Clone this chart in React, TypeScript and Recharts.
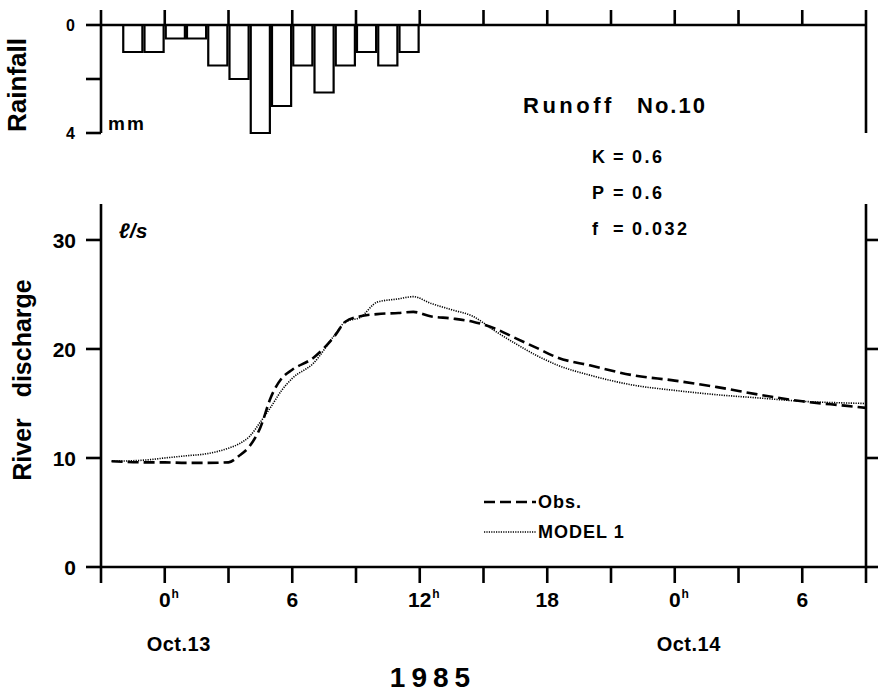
import React from 'react'
import { BarChart, Bar, LineChart, Line, XAxis, YAxis, Legend } from 'recharts'

// hours counted from Oct.13 0h
const rainHours = [-1.5, -0.5, 0.5, 1.5, 2.5, 3.5, 4.5, 5.5, 6.5, 7.5, 8.5, 9.5, 10.5, 11.5]
const rainfall = [1, 1, 0.5, 0.5, 1.5, 2, 4, 3, 1.5, 2.5, 1.5, 1, 1.5, 1]

const hours = [-2.5, -1, 0, 1, 2, 3, 3.5, 4, 4.5, 5, 5.5, 6, 7, 8, 8.5, 9.2, 10, 11, 11.7, 12.5, 13.5, 14.5, 15.5, 16.5, 17.5, 18.5, 20, 22, 24, 26, 28, 30, 32, 33]
const observed = [9.7, 9.6, 9.6, 9.55, 9.55, 9.6, 10.2, 11.1, 12.8, 15.6, 17.3, 18.1, 19.2, 21.2, 22.5, 23.0, 23.2, 23.3, 23.4, 23.0, 22.8, 22.5, 21.9, 21.0, 20.1, 19.2, 18.5, 17.6, 17.1, 16.5, 15.8, 15.2, 14.8, 14.6]
const model1 = [9.7, 9.8, 10.0, 10.2, 10.4, 10.9, 11.3, 12.0, 13.3, 14.7, 16.2, 17.3, 18.7, 21.3, 22.5, 22.9, 24.3, 24.6, 24.8, 24.2, 23.6, 23.0, 21.7, 20.5, 19.4, 18.5, 17.6, 16.7, 16.2, 15.8, 15.5, 15.2, 15.05, 15.0]

const hourTicks = [-3, 0, 3, 6, 9, 12, 15, 18, 21, 24, 27, 30, 33]
const hourLabels: Record<number, [string, string]> = {
  0: ['0', 'h'], 6: ['6', ''], 12: ['12', 'h'], 18: ['18', ''], 24: ['0', 'h'], 30: ['6', ''],
}
const dayLabels: Record<number, string> = { 0: 'Oct.13', 24: 'Oct.14' }
const rainTicks = [0, 2, 4]
const flowTicks = [0, 10, 20, 30]
const params = [['K', '0.6'], ['P', '0.6'], ['f', '0.032']]
const seriesOrder = ['obs', 'model']

const FONT = '"Liberation Sans", Arial, Helvetica, sans-serif'
const W = 878
const LEFT = 101
const RIGHT = 12
const HOUR_PX = (W - LEFT - RIGHT) / 36
const STROKE_W = 2.6
const axisStroke = { stroke: '#000', strokeWidth: STROKE_W }

const rainData = rainHours.map((h, i) => ({ hour: h, rain: rainfall[i] }))
const flowData = hours.map((h, i) => ({ hour: h, obs: observed[i], model: model1[i] }))

const lineStyle: Record<string, { dash: string; width: number }> = {
  obs: { dash: '11 5', width: 2.6 },
  model: { dash: '1.2 1.2', width: 1.6 },
}

function HourTick({ x, y, payload }: any) {
  const lab = hourLabels[payload.value]
  if (!lab) return null
  const [main, sup] = lab
  const day = dayLabels[payload.value]
  return (
    <g fontFamily={FONT} fontWeight={700} fill="#000">
      <text x={x} y={y + 22} textAnchor="middle" fontSize={21}>{main}</text>
      {sup && <text x={x + main.length * 5.8 + 1} y={y + 13} fontSize={12}>{sup}</text>}
      {day && <text x={x + 14} y={y + 66} textAnchor="middle" fontSize={20} letterSpacing={0.5}>{day}</text>}
    </g>
  )
}

// y ticks draw their own mark (x is the label anchor: axis -/+ tick length -/+ margin)
function makeSideTick(dir: number, len: number, margin: number, fmt?: (v: number) => string, fontSize = 16) {
  return function SideTick(props: any) {
    const { x, y, payload } = props
    const near = x - dir * margin
    const far = near - dir * len
    const text = fmt ? fmt(payload.value) : ''
    return (
      <g>
        <line x1={near} y1={y} x2={far} y2={y} stroke="#000" strokeWidth={STROKE_W} />
        {text !== '' && (
          <text x={x} y={y} dy="0.36em" textAnchor="end" fontFamily={FONT} fontWeight={700} fontSize={fontSize} fill="#000">
            {text}
          </text>
        )}
      </g>
    )
  }
}

const RainLeftTick = makeSideTick(-1, 15, 11, (v) => (v === 2 ? '' : String(v)), 16)
const FlowLeftTick = makeSideTick(-1, 15, 10, (v) => String(v), 21)
const RightTick = makeSideTick(1, 12, 0)

function LegendBox({ payload }: any) {
  const items = [...(payload || [])].sort((a: any, b: any) => seriesOrder.indexOf(a.dataKey) - seriesOrder.indexOf(b.dataKey))
  return (
    <div style={{ fontFamily: FONT, fontWeight: 700, fontSize: 18, letterSpacing: 1, color: '#000' }}>
      {items.map((entry: any) => {
        const st = lineStyle[entry.dataKey]
        return (
          <div key={entry.dataKey} style={{ display: 'flex', alignItems: 'center', height: 30 }}>
            <svg width={52} height={10} style={{ marginRight: 2 }}>
              <line x1={0} y1={5} x2={52} y2={5} stroke="#000" strokeWidth={st.width} strokeDasharray={st.dash} />
            </svg>
            <span>{entry.value}</span>
          </div>
        )
      })}
    </div>
  )
}

export default function App() {
  return (
    <div style={{ position: 'absolute', left: 0, top: 0, width: W, height: 696, background: '#fff' }}>
      <div style={{ position: 'absolute', left: 0, top: 0 }}>
        <BarChart width={W} height={150} data={rainData} margin={{ top: 0, right: 0, bottom: 17, left: 0 }}>
          <XAxis type="number" dataKey="hour" domain={[-3, 33]} ticks={hourTicks} orientation="top" height={25}
            tickSize={15} tickFormatter={() => ''} axisLine={axisStroke} tickLine={axisStroke} allowDataOverflow interval={0} />
          <YAxis yAxisId="l" reversed domain={[0, 4]} ticks={rainTicks} width={LEFT} tickSize={15} tickMargin={11}
            interval={0} tickLine={false} axisLine={axisStroke} tick={RainLeftTick} />
          <YAxis yAxisId="r" orientation="right" reversed domain={[0, 4]} ticks={rainTicks} width={RIGHT} tickSize={12}
            tickMargin={0} interval={0} tickLine={false} axisLine={axisStroke} tick={RightTick} />
          <Bar yAxisId="l" dataKey="rain" fill="#fff" stroke="#000" strokeWidth={2.2} barSize={HOUR_PX} isAnimationActive={false} />
          <text transform="translate(26,85) rotate(-90)" textAnchor="middle" fontFamily={FONT} fontWeight={700} fontSize={26}>Rainfall</text>
          <text x={108} y={130} fontFamily={FONT} fontWeight={700} fontSize={19} letterSpacing={2}>mm</text>
          <text y={113} fontFamily={FONT} fontWeight={700} fontSize={22} letterSpacing={3.5}>
            <tspan x={523}>Runoff</tspan>
            <tspan x={637} letterSpacing={2}>No.10</tspan>
          </text>
        </BarChart>
      </div>
      <div style={{ position: 'absolute', left: 0, top: 140 }}>
        <LineChart width={W} height={556} data={flowData} margin={{ top: 64, right: 0, bottom: 0, left: 0 }}>
          <XAxis type="number" dataKey="hour" domain={[-3, 33]} ticks={hourTicks} height={129} tickSize={16}
            tick={<HourTick />} interval={0} axisLine={axisStroke} tickLine={axisStroke} allowDataOverflow />
          <YAxis yAxisId="l" domain={[0, 33.3]} ticks={flowTicks} width={LEFT} tickSize={15} tickMargin={10}
            interval={0} tickLine={false} axisLine={axisStroke} allowDataOverflow tick={FlowLeftTick} />
          <YAxis yAxisId="r" orientation="right" domain={[0, 33.3]} ticks={flowTicks} width={RIGHT} tickSize={12}
            tickMargin={0} interval={0} tickLine={false} axisLine={axisStroke} allowDataOverflow tick={RightTick} />
          <Line yAxisId="l" type="monotone" dataKey="obs" name="Obs." stroke="#000" strokeWidth={lineStyle.obs.width}
            strokeDasharray={lineStyle.obs.dash} dot={false} isAnimationActive={false} />
          <Line yAxisId="l" type="monotone" dataKey="model" name="MODEL 1" stroke="#000" strokeWidth={lineStyle.model.width}
            strokeDasharray={lineStyle.model.dash} dot={false} isAnimationActive={false} />
          <Legend layout="vertical" verticalAlign="middle" align="center" content={<LegendBox />}
            wrapperStyle={{ left: 484, top: 347, width: 'auto' }} />
          <text transform="translate(31,240) rotate(-90)" textAnchor="middle" fontFamily={FONT} fontWeight={700}
            fontSize={25} style={{ whiteSpace: 'pre' }}>{'River   discharge'}</text>
          <text x={119} y={98} fontFamily={FONT} fontWeight={700} fontStyle="italic" fontSize={21}>ℓ/s</text>
          {params.map(([k, v], i) => (
            <g key={k} fontFamily={FONT} fontWeight={700} fontSize={18} fill="#000">
              <text x={592} y={23 + i * 36}>{k}</text>
              <text x={613} y={23 + i * 36}>=</text>
              <text x={632} y={23 + i * 36} letterSpacing={2.5}>{v}</text>
            </g>
          ))}
          <text x={433} y={547} textAnchor="middle" fontFamily={FONT} fontWeight={700} fontSize={28} letterSpacing={6}>1985</text>
        </LineChart>
      </div>
    </div>
  )
}
